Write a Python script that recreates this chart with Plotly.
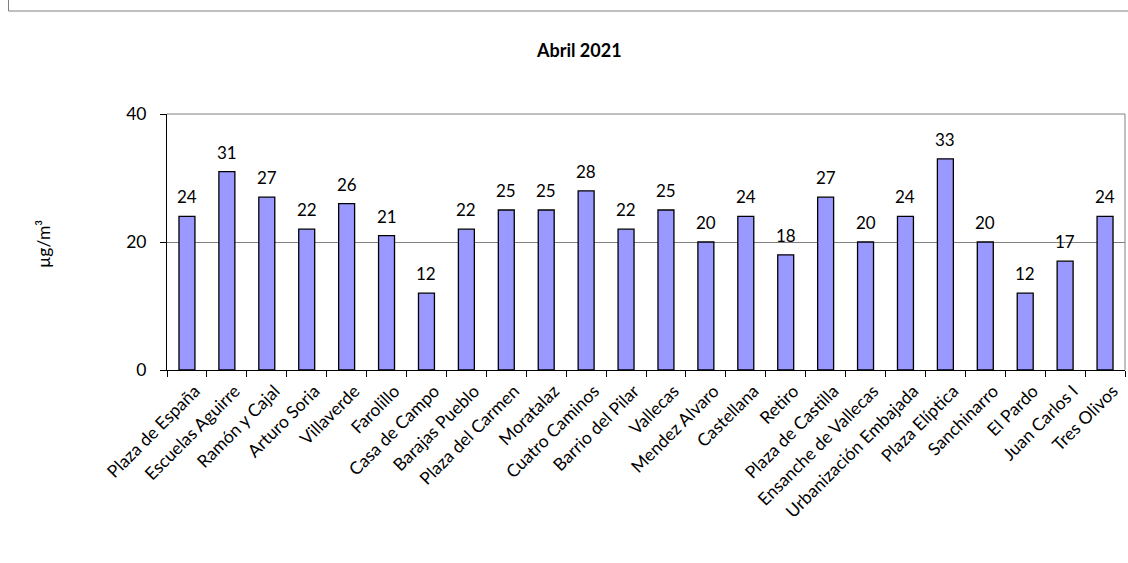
import plotly.graph_objects as go

stations = ["Plaza de España", "Escuelas Aguirre", "Ramón y Cajal", "Arturo Soria", "Villaverde",
            "Farolillo", "Casa de Campo", "Barajas Pueblo", "Plaza del Carmen", "Moratalaz",
            "Cuatro Caminos", "Barrio del Pilar", "Vallecas", "Mendez Alvaro", "Castellana",
            "Retiro", "Plaza de Castilla", "Ensanche de Vallecas", "Urbanización Embajada",
            "Plaza Elíptica", "Sanchinarro", "El Pardo", "Juan Carlos I", "Tres Olivos"]
values = [24, 31, 27, 22, 26, 21, 12, 22, 25, 25, 28, 22, 25, 20, 24, 18, 27, 20, 24, 33, 20, 12, 17, 24]
y_ticks = [0, 20, 40]
title_text = "Abril 2021"
y_title = "µg/m³"

W, H = 1128, 563
L, R, T, B = 167, 3, 114, 193
pw, ph = W - L - R, H - T - B
FONT = "Lato"

fig = go.Figure(go.Bar(
    x=stations, y=values,
    marker=dict(color="#9999FF", line=dict(color="black", width=1.3)),
    width=0.4,
))

def px_x(x):
    return (x - L) / pw

def px_y(y):
    return (H - B - y) / ph

label_annotations = [
    dict(x=s, y=v, xref="x", yref="y", text=str(v), showarrow=False,
         xanchor="center", yanchor="bottom", yshift=7,
         font=dict(size=17, family=FONT, color="black"))
    for s, v in zip(stations, values)
]

fig.update_layout(
    width=W, height=H,
    margin=dict(l=L, r=R, t=T, b=B, autoexpand=False),
    paper_bgcolor="white", plot_bgcolor="white",
    showlegend=False,
    font=dict(family=FONT, size=17, color="black"),
    xaxis=dict(
        type="category", tickangle=-45, tickson="boundaries",
        ticks="outside", ticklen=6, tickcolor="black",
        showline=True, linecolor="black", linewidth=1,
        showgrid=False, tickfont=dict(size=17.5, family=FONT),
        ticklabelstandoff=3, ticklabelshift=8,
    ),
    yaxis=dict(
        range=[0, 40], tickvals=y_ticks, ticks="outside", ticklen=6, tickcolor="black",
        showline=True, linecolor="black", linewidth=1,
        showgrid=True, gridcolor="#808080", gridwidth=1, zeroline=False,
        tickfont=dict(size=17.5, family=FONT), ticklabelstandoff=10,
    ),
    shapes=[
        dict(type="line", xref="paper", yref="paper", x0=0, x1=1, y0=1, y1=1,
             line=dict(color="#808080", width=1)),
        dict(type="line", xref="paper", yref="paper", x0=1, x1=1, y0=0, y1=1,
             line=dict(color="#808080", width=1)),
        dict(type="line", xref="paper", yref="paper", x0=px_x(8.5), x1=px_x(8.5),
             y0=px_y(11), y1=px_y(-10), line=dict(color="#808080", width=1)),
        dict(type="line", xref="paper", yref="paper", x0=px_x(8.5), x1=px_x(1140),
             y0=px_y(11), y1=px_y(11), line=dict(color="#808080", width=1)),
    ],
    annotations=[
        dict(text="<b>" + title_text + "</b>", xref="paper", yref="paper",
             x=px_x(579), y=px_y(50), showarrow=False, xanchor="center", yanchor="middle",
             font=dict(size=18, family=FONT)),
        dict(text=y_title, xref="paper", yref="paper", x=px_x(43), y=px_y(244),
             showarrow=False, textangle=-90, xanchor="center", yanchor="middle",
             font=dict(size=17.5, family=FONT)),
    ] + label_annotations,
)

fig.write_html("out.html", config={"displayModeBar": False},
               post_script="document.body.style.margin='0';")
